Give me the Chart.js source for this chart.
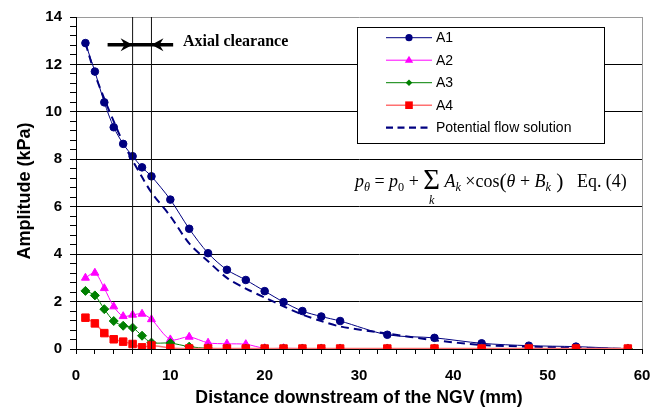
<!DOCTYPE html>
<html>
<head>
<meta charset="utf-8">
<script src="https://cdn.jsdelivr.net/npm/chart.js@4/dist/chart.umd.min.js"></script>
<style>
  html, body { margin: 0; padding: 0; background: #fff; }
  #wrap { width: 668px; height: 412px; }
</style>
</head>
<body>
<div id="wrap"><canvas id="c" width="668" height="412"></canvas></div>
<script>
// ---- data ----
const distances = [1, 2, 3, 4, 5, 6, 7, 8, 10, 12, 14, 16, 18, 20, 22, 24, 26, 28, 33, 38, 43, 48, 53, 58.5];
const A1 = [12.9, 11.7, 10.4, 9.35, 8.65, 8.13, 7.66, 7.28, 6.3, 5.07, 4.04, 3.34, 2.91, 2.44, 1.98, 1.6, 1.37, 1.18, 0.6, 0.47, 0.24, 0.14, 0.1, 0.01];
const A2 = [3.0, 3.21, 2.56, 1.79, 1.38, 1.44, 1.48, 1.25, 0.4, 0.51, 0.26, 0.22, 0.2, 0.03, 0.03, 0.02, 0.02, 0.02, 0.02, 0.02, 0.02, 0.02, 0.02, 0.02];
const A3 = [2.45, 2.26, 1.68, 1.18, 0.98, 0.9, 0.56, 0.27, 0.25, 0.1, 0.03, 0.02, 0.02, 0.02, 0.02, 0.02, 0.02, 0.02, 0.02, 0.02, 0.02, 0.02, 0.02, 0.02];
const A4 = [1.32, 1.08, 0.67, 0.41, 0.31, 0.21, 0.07, 0.15, 0.04, 0.02, 0.02, 0.02, 0.02, 0.02, 0.02, 0.02, 0.02, 0.02, 0.02, 0.02, 0.02, 0.02, 0.02, 0.02];
const potentialFlow = [12.9, 11.6, 10.55, 9.6, 8.7, 7.95, 7.25, 6.6, 5.6, 4.45, 3.7, 3.0, 2.55, 2.17, 1.8, 1.45, 1.18, 0.95, 0.65, 0.37, 0.17, 0.1, 0.05, 0.0];
const seriesNames = ['A1', 'A2', 'A3', 'A4', 'Potential flow solution'];
const clearanceLines = [6, 8];
const xTickLabels = [0, 10, 20, 30, 40, 50, 60];
const yTickLabels = [0, 2, 4, 6, 8, 10, 12, 14];

const toXY = arr => arr.map((v, i) => ({ x: distances[i], y: v }));
const isMajorY = v => Math.abs(v / 2 - Math.round(v / 2)) < 1e-6;
const isMajorX = v => Math.abs(v / 10 - Math.round(v / 10)) < 1e-6;

const NAVY = '#000080', MAG = '#FF00FF', GRN = '#008000', RED = '#FF0000', RED_LINE = '#FF7070';

const overlay = {
  id: 'overlay',
  afterDatasetsDraw(chart) {
    const ctx = chart.ctx, xs = chart.scales.x, ys = chart.scales.y, ca = chart.chartArea;
    ctx.save();
    // clearance lines
    ctx.strokeStyle = '#111'; ctx.lineWidth = 1;
    clearanceLines.forEach(v => {
      const px = xs.getPixelForValue(v);
      ctx.beginPath(); ctx.moveTo(px, ca.top); ctx.lineTo(px, ca.bottom); ctx.stroke();
    });
    // double arrow
    const ay = ys.getPixelForValue(12.83);
    const xa = xs.getPixelForValue(3.35), xb = xs.getPixelForValue(10.3);
    ctx.lineWidth = 3.5; ctx.strokeStyle = '#000';
    ctx.beginPath(); ctx.moveTo(xa, ay); ctx.lineTo(xb, ay); ctx.stroke();
    const head = (tx, d) => {
      ctx.beginPath();
      ctx.moveTo(tx, ay);
      ctx.lineTo(tx - d * 12, ay - 6.5);
      ctx.lineTo(tx - d * 8, ay);
      ctx.lineTo(tx - d * 12, ay + 6.5);
      ctx.closePath(); ctx.fillStyle = '#000'; ctx.fill();
    };
    head(xs.getPixelForValue(clearanceLines[0]), 1);
    head(xs.getPixelForValue(clearanceLines[1]), -1);
    ctx.font = 'bold 16px "Liberation Serif"';
    ctx.textBaseline = 'alphabetic'; ctx.textAlign = 'left'; ctx.fillStyle = '#000';
    ctx.fillText('Axial clearance', 183, 46);

    // legend
    const L = { x0: 357, y0: 27, x1: 604, y1: 143 };
    ctx.fillStyle = '#fff';
    ctx.fillRect(L.x0, L.y0, L.x1 - L.x0, L.y1 - L.y0);
    ctx.strokeStyle = '#000'; ctx.lineWidth = 1;
    ctx.strokeRect(L.x0 + 0.5, L.y0 + 0.5, L.x1 - L.x0, L.y1 - L.y0);
    const rows = [37.7, 60.2, 82.7, 105.2, 127.7];
    const styles = [
      { c: NAVY, lc: NAVY, shape: 'circle' },
      { c: MAG, lc: MAG, shape: 'triangle' },
      { c: GRN, lc: GRN, shape: 'diamond' },
      { c: RED, lc: RED_LINE, shape: 'square' },
      { c: NAVY, lc: NAVY, shape: 'dash' }
    ];
    styles.forEach((s, i) => {
      const y = rows[i];
      ctx.save();
      ctx.strokeStyle = s.lc;
      if (s.shape === 'dash') { ctx.lineWidth = 2.2; ctx.setLineDash([7, 4.5]); }
      else { ctx.lineWidth = (s.shape === 'square') ? 1.5 : 1; }
      ctx.beginPath(); ctx.moveTo(386, y); ctx.lineTo(432, y); ctx.stroke();
      ctx.restore();
      ctx.fillStyle = s.c;
      const mx = 409;
      ctx.beginPath();
      if (s.shape === 'circle') { ctx.arc(mx, y, 3.6, 0, Math.PI * 2); ctx.fill(); }
      else if (s.shape === 'triangle') { ctx.moveTo(mx, y - 4.5); ctx.lineTo(mx + 4.2, y + 2.6); ctx.lineTo(mx - 4.2, y + 2.6); ctx.closePath(); ctx.fill(); }
      else if (s.shape === 'diamond') { ctx.moveTo(mx, y - 3.3); ctx.lineTo(mx + 3.3, y); ctx.lineTo(mx, y + 3.3); ctx.lineTo(mx - 3.3, y); ctx.closePath(); ctx.fill(); }
      else if (s.shape === 'square') { ctx.fillRect(mx - 3.8, y - 3.8, 7.6, 7.6); }
      ctx.fillStyle = '#000';
      ctx.font = '14px "Liberation Sans"';
      ctx.textBaseline = 'middle';
      ctx.fillText(seriesNames[i], 436, y + 0.5);
    });

    // equation
    const pieces = [
      { t: 'p', i: 1, s: 1 },
      { t: 'θ', i: 1, s: 0.68, dy: 0.22 },
      { t: ' = ', s: 1 },
      { t: 'p', i: 1, s: 1 },
      { t: '0', s: 0.68, dy: 0.22 },
      { t: ' + ', s: 1 },
      { t: 'Σ', s: 1.6, dy: 0.12, under: 'k' },
      { t: ' A', i: 1, s: 1 },
      { t: 'k', i: 1, s: 0.68, dy: 0.22 },
      { t: ' ×', s: 1 },
      { t: 'cos', s: 1 },
      { t: '(', s: 1.2, dy: 0.05 },
      { t: 'θ', i: 1, s: 1 },
      { t: ' + ', s: 1 },
      { t: 'B', i: 1, s: 1 },
      { t: 'k', i: 1, s: 0.68, dy: 0.22 },
      { t: ' )', s: 1.2, dy: 0.05 },
      { t: '   Eq. (4)', s: 1 }
    ];
    const fnt = (p, S) => (p.i ? 'italic ' : '') + (S * p.s).toFixed(2) + 'px "Liberation Serif"';
    const S0 = 16; let total = 0;
    pieces.forEach(p => { ctx.font = fnt(p, S0); total += ctx.measureText(p.t).width; });
    const S = S0 * 272 / total;
    let ex = 355; const ey = 187;
    ctx.textBaseline = 'alphabetic'; ctx.fillStyle = '#000';
    pieces.forEach(p => {
      ctx.font = fnt(p, S);
      const w = ctx.measureText(p.t).width;
      ctx.fillText(p.t, ex, ey + (p.dy || 0) * S);
      if (p.under) {
        ctx.font = 'italic ' + (S * 0.68).toFixed(2) + 'px "Liberation Serif"';
        const uw = ctx.measureText(p.under).width;
        ctx.fillText(p.under, ex + (w - uw) / 2, ey + 0.95 * S);
      }
      ex += w;
    });

    // y-axis title (drawn slightly below the plot's centre, as in the reference)
    ctx.save();
    ctx.translate(25, 191);
    ctx.rotate(-Math.PI / 2);
    ctx.font = 'bold 18px "Liberation Sans"';
    ctx.textAlign = 'center'; ctx.textBaseline = 'middle'; ctx.fillStyle = '#000';
    ctx.fillText('Amplitude (kPa)', 0, 0);
    ctx.restore();

    ctx.restore();
  }
};

const ds = (label, data, color, lineColor, style, radius, order, extra) => Object.assign({
  label, data: toXY(data), showLine: true, borderColor: lineColor, backgroundColor: color,
  pointBackgroundColor: color, pointBorderColor: color, pointStyle: style, pointRadius: radius,
  pointBorderWidth: 1, borderWidth: 1, tension: 0.3, order
}, extra || {});

new Chart(document.getElementById('c'), {
  type: 'scatter',
  data: {
    datasets: [
      ds(seriesNames[0], A1, NAVY, NAVY, 'circle', 3.8, 3),
      ds(seriesNames[1], A2, MAG, MAG, 'triangle', 4.6, 2),
      ds(seriesNames[2], A3, GRN, GRN, 'rectRot', 4.5, 1),
      ds(seriesNames[3], A4, RED, RED_LINE, 'rect', 5.3, 0, { borderWidth: 1.5 }),
      ds(seriesNames[4], potentialFlow, NAVY, NAVY, 'circle', 0, 4, { borderWidth: 2, borderDash: [8, 5], tension: 0.3 })
    ]
  },
  options: {
    responsive: false, animation: false, devicePixelRatio: 1,
    layout: { padding: { left: 0, top: 13, right: 26, bottom: 0 } },
    plugins: { legend: { display: false }, tooltip: { enabled: false } },
    scales: {
      x: {
        type: 'linear', min: 0, max: 60,
        afterFit: s => { s.height = 63; },
        border: { display: true, color: '#000', width: 1 },
        grid: {
          drawOnChartArea: true, drawTicks: true, tickLength: 5,
          color: c => (c.tick && c.tick.value === 60) ? '#9a9a9a' : 'rgba(0,0,0,0)',
          tickColor: '#000', lineWidth: 1
        },
        ticks: {
          stepSize: 2, autoSkip: false, maxRotation: 0, padding: 13, color: '#000',
          font: { family: '"Liberation Sans"', size: 15, weight: 'bold' },
          callback: v => (isMajorX(v) && xTickLabels.includes(Math.round(v))) ? String(Math.round(v)) : ''
        },
        title: {
          display: true, text: 'Distance downstream of the NGV (mm)', color: '#000',
          font: { family: '"Liberation Sans"', size: 17.7, weight: 'bold' },
          padding: { top: 0, bottom: 3 }
        }
      },
      y: {
        type: 'linear', min: 0, max: 14,
        afterFit: s => { s.width = 76; },
        border: { display: true, color: '#000', width: 1 },
        grid: {
          drawOnChartArea: true, drawTicks: true, tickLength: 6,
          color: c => {
            const v = c.tick ? c.tick.value : NaN;
            if (Math.abs(v - 14) < 1e-6) return '#9a9a9a';
            return isMajorY(v) ? '#000' : 'rgba(0,0,0,0)';
          },
          tickColor: '#000', lineWidth: 1
        },
        ticks: {
          stepSize: 0.4, autoSkip: false, padding: 8, color: '#000',
          font: { family: '"Liberation Sans"', size: 15, weight: 'bold' },
          callback: v => (isMajorY(v) && yTickLabels.includes(Math.round(v))) ? String(Math.round(v)) : ''
        },
        title: { display: false }
      }
    }
  },
  plugins: [overlay]
});
</script>
</body>
</html>
